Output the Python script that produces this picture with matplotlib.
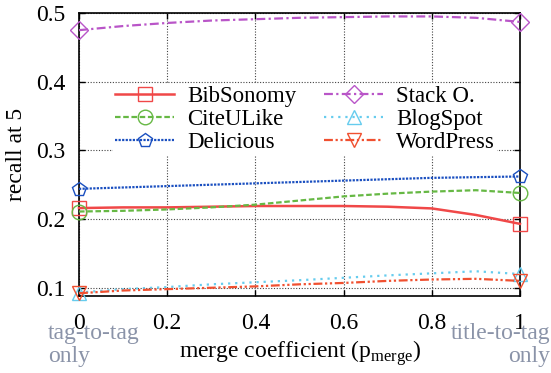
import numpy as np
import matplotlib
matplotlib.use('Agg')
import matplotlib.pyplot as plt

plt.rcParams['font.family'] = 'Liberation Serif'
plt.rcParams['mathtext.fontset'] = 'custom'
plt.rcParams['mathtext.rm'] = 'Liberation Serif'

# merge coefficient values
p_merge = [0.0, 0.1, 0.2, 0.3, 0.4, 0.5, 0.6, 0.7, 0.8, 0.9, 1.0]

# recall at 5 per dataset
bibsonomy = [0.216, 0.217, 0.217, 0.218, 0.219, 0.219, 0.219, 0.218, 0.2155, 0.206, 0.193]
citeulike = [0.211, 0.212, 0.214, 0.217, 0.221, 0.227, 0.233, 0.237, 0.240, 0.242, 0.238]
delicious = [0.244, 0.246, 0.248, 0.250, 0.252, 0.254, 0.256, 0.258, 0.260, 0.261, 0.262]
stacko = [0.475, 0.481, 0.4855, 0.489, 0.491, 0.493, 0.494, 0.495, 0.495, 0.493, 0.487]
blogspot = [0.093, 0.098, 0.101, 0.105, 0.108, 0.111, 0.1145, 0.118, 0.121, 0.124, 0.120]
wordpress = [0.092, 0.096, 0.098, 0.100, 0.102, 0.105, 0.107, 0.110, 0.112, 0.113, 0.110]

xticks = [0, 0.2, 0.4, 0.6, 0.8, 1]
xticklabels = ['0', '0.2', '0.4', '0.6', '0.8', '1']
yticks = [0.1, 0.2, 0.3, 0.4, 0.5]
yticklabels = ['0.1', '0.2', '0.3', '0.4', '0.5']

FONT = 'Liberation Serif'

fig = plt.figure(figsize=(5.51, 3.73), dpi=100)
ax = fig.add_axes([79 / 551, 1 - 296 / 373, 441 / 551, 283 / 373])

series = [
    ('BibSonomy', bibsonomy, '#f04848', '-', 's'),
    ('CiteULike', citeulike, '#66b844', (0, (2.5, 1.2)), 'o'),
    ('Delicious', delicious, '#1a4fc0', (0, (1, 0.6)), 'p'),
    ('Stack O.', stacko, '#b955c8', (0, (4, 1.5, 1, 1.5)), 'D'),
    ('BlogSpot', blogspot, '#66ccee', (0, (1, 2.2)), '^'),
    ('WordPress', wordpress, '#f05030', (0, (4, 1.2, 1, 1.2, 1, 1.2)), 'v'),
]

for name, vals, col, ls, mk in series:
    ms = 9 if mk == 'D' else 10.5
    ax.plot(p_merge, vals, color=col, linestyle=ls, linewidth=1.8 if ls == '-' else 1.6,
            marker=mk, markevery=[0, len(vals) - 1], markersize=ms,
            markerfacecolor='none', markeredgecolor=col, markeredgewidth=1.0,
            label=name, clip_on=False, zorder=3)

ax.set_xlim(0, 1)
ax.set_ylim(0.088, 0.5)
ax.set_xticks(xticks)
ax.set_xticklabels(xticklabels, fontfamily=FONT, fontsize=17)
ax.set_yticks(yticks)
ax.set_yticklabels(yticklabels, fontfamily=FONT, fontsize=17)
ax.tick_params(direction='in', top=True, right=True, length=4, width=1)
ax.tick_params(axis='x', pad=12)
ax.tick_params(axis='y', pad=10)
ax.grid(True, color='#444444', linestyle=(0, (1, 1.5)), linewidth=0.8)
for s in ax.spines.values():
    s.set_linewidth(1.2)

ax.set_ylabel('recall at 5', fontsize=17, fontfamily=FONT, labelpad=6)
fig.text(300 / 551, 1 - 353 / 373, r'merge coefficient (p$_{\mathrm{merge}}$)',
         fontsize=17, fontfamily=FONT, ha='center', va='center')

fig.text(48 / 551, 1 - 323 / 373, 'tag-to-tag\nonly', color='#8a93a8', fontsize=17,
         fontfamily=FONT, ha='left', va='top', linespacing=1.1)
fig.text(550 / 551, 1 - 323 / 373, 'title-to-tag\nonly', color='#8a93a8', fontsize=17,
         fontfamily=FONT, ha='right', va='top', linespacing=1.1, multialignment='right')

leg = ax.legend(ncol=2, loc='upper left', bbox_to_anchor=(0.05, 0.79),
                frameon=True, fancybox=False, edgecolor='none', facecolor='white',
                framealpha=1, prop={'family': FONT, 'size': 16.5}, handlelength=2.6,
                labelspacing=0.08, columnspacing=1.2, borderpad=0.1, handletextpad=0.55)
leg.set_zorder(5)

fig.savefig('out.png', dpi=100)
